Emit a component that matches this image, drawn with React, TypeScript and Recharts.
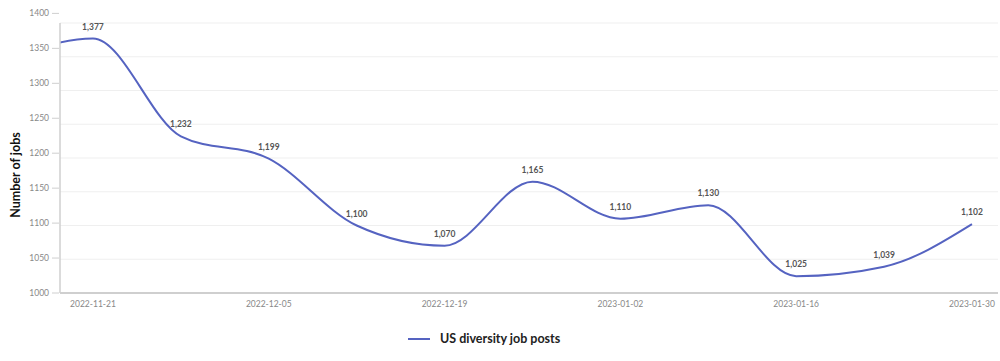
import React from 'react';
import { LineChart, Line, XAxis, YAxis, CartesianGrid, Legend, LabelList } from 'recharts';

// first entry is the week before the range, only partly visible at the left edge
const weeks = [
  '2022-11-14', '2022-11-21', '2022-11-28', '2022-12-05', '2022-12-12', '2022-12-19',
  '2022-12-26', '2023-01-02', '2023-01-09', '2023-01-16', '2023-01-23', '2023-01-30',
];
const jobPosts = [1345, 1377, 1232, 1199, 1100, 1070, 1165, 1110, 1130, 1025, 1039, 1102];
const xTicks = [1, 3, 5, 7, 9, 11];
const yTicks = [1000, 1050, 1100, 1150, 1200, 1250, 1300, 1350, 1400];

const data = weeks.map((week, i) => ({ i, week, jobs: jobPosts[i] }));

const LINE = '#5563c1';
const FONT = 'Lato, "Open Sans", sans-serif';

const YTick = (props: any) => {
  const { x, y, payload } = props;
  const shift = ((payload.value - 1000) / 50) * 1.2;
  return (
    <g>
      <line x1={x} x2={x + 7} y1={y - shift} y2={y - shift} stroke="#cfcfcf" />
      <text x={x - 3} y={y - shift} dy="0.35em" textAnchor="end" fontSize={8.5} fill="#888" fontFamily={FONT}>
        {payload.value}
      </text>
    </g>
  );
};

const PointLabel = (props: any) => {
  const { x, y, value, index } = props;
  if (index === 0) return null;
  return (
    <text x={x} y={y - 9} textAnchor="middle" fontSize={8.5} fontWeight={700} fill="#555" fontFamily={FONT}>
      {value.toLocaleString('en-US')}
    </text>
  );
};

const AxisTitle = () => (
  <text
    x={15}
    y={175}
    transform="rotate(-90 15 175)"
    textAnchor="middle"
    dominantBaseline="central"
    fontSize={12.5}
    fontWeight={700}
    fill="#111"
    fontFamily={FONT}
  >
    Number of jobs
  </text>
);

const LegendBox = () => (
  <div style={{ position: 'relative', width: 1000, height: 38, fontFamily: FONT }}>
    <div style={{ position: 'absolute', left: 408, top: 8, display: 'flex', alignItems: 'center' }}>
      <span style={{ display: 'inline-block', width: 22, height: 2, background: LINE, marginRight: 10 }} />
      <span style={{ fontSize: 12.5, fontWeight: 700, color: '#222' }}>US diversity job posts</span>
    </div>
  </div>
);

export default function App() {
  return (
    <div style={{ position: 'absolute', left: 0, top: 0, background: '#fff' }}>
      <LineChart width={1000} height={361} data={data} margin={{ top: 23, right: 2, bottom: 0, left: 0 }}>
        <CartesianGrid vertical={false} stroke="#efefef" />
        <XAxis
          type="number"
          dataKey="i"
          domain={[0.625, 11.296]}
          allowDataOverflow
          ticks={xTicks}
          tickFormatter={(i: number) => weeks[i]}
          tickLine={false}
          axisLine={{ stroke: '#cfcfcf', strokeWidth: 2 }}
          tick={{ fontSize: 8.5, fill: '#888', fontFamily: FONT }}
          tickMargin={2}
          height={30}
        />
        <YAxis
          domain={[1000, 1400]}
          ticks={yTicks}
          width={60}
          tickLine={false}
          tick={<YTick />}
          axisLine={{ stroke: '#cfcfcf', strokeWidth: 1.5 }}
          label={<AxisTitle />}
        />
        <Legend verticalAlign="bottom" height={38} content={<LegendBox />} />
        <Line
          type="monotone"
          dataKey="jobs"
          stroke={LINE}
          strokeWidth={2}
          dot={false}
          activeDot={false}
          isAnimationActive={false}
        >
          <LabelList dataKey="jobs" content={<PointLabel />} />
        </Line>
      </LineChart>
    </div>
  );
}
